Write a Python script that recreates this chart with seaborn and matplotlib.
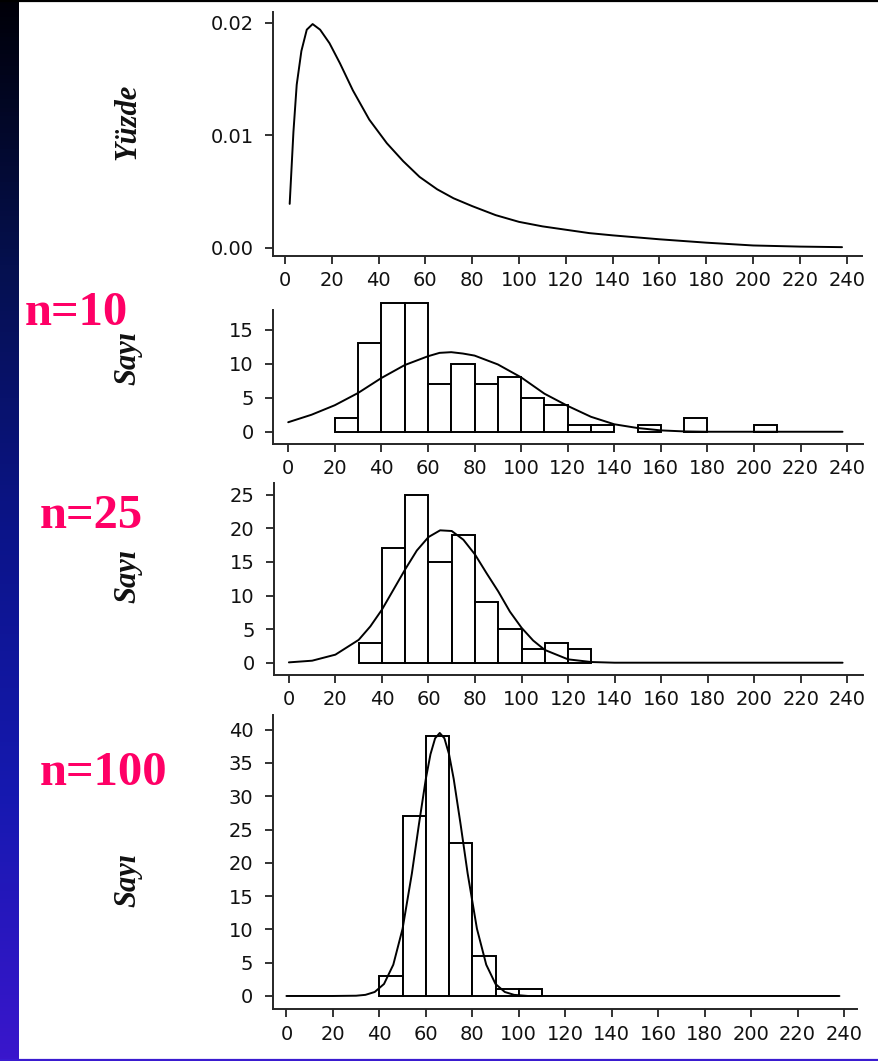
import numpy as np
import matplotlib
matplotlib.use("Agg")
import matplotlib.pyplot as plt
import seaborn as sns
from matplotlib.colors import LinearSegmentedColormap
from matplotlib.lines import Line2D
from matplotlib.ticker import FormatStrFormatter

# population distribution (top panel)
pop_x = [2, 3.6, 5, 7, 9.3, 11.8, 15, 19, 23.5, 29, 36, 43.5, 50.5, 57.5, 65, 72,
         80, 90, 100, 110, 120, 130, 140, 160, 180, 200, 220, 238]
pop_y = [0.0039, 0.0103, 0.0145, 0.0175, 0.0194, 0.0199, 0.0194, 0.0182, 0.0164,
         0.0140, 0.0114, 0.0093, 0.0077, 0.0063, 0.0052, 0.0044, 0.0037, 0.0029,
         0.0023, 0.0019, 0.0016, 0.0013, 0.0011, 0.00075, 0.00045, 0.0002, 0.0001,
         0.00005]

# sample means, n=10 (bin start, count) + fitted normal
n10_bins = [20, 30, 40, 50, 60, 70, 80, 90, 100, 110, 120, 130, 150, 170, 200]
n10_counts = [2, 13, 19, 19, 7, 10, 7, 8, 5, 4, 1, 1, 1, 2, 1]
n10_fit_x = [0, 10, 20, 30, 40, 50, 60, 65, 70, 75, 80, 90, 100, 110, 120, 130,
             140, 150, 160, 170, 180, 200, 238]
n10_fit_y = [1.4, 2.5, 3.9, 5.7, 7.9, 9.8, 11.1, 11.6, 11.7, 11.5, 11.2, 9.9, 8.0,
             5.6, 3.8, 2.2, 1.1, 0.55, 0.2, 0.05, 0, 0, 0]

# sample means, n=25
n25_bins = [30, 40, 50, 60, 70, 80, 90, 100, 110, 120]
n25_counts = [3, 17, 25, 15, 19, 9, 5, 2, 3, 2]
n25_fit_x = [0, 10, 20, 30, 35, 40, 45, 50, 55, 60, 65, 70, 75, 80, 85, 90, 95,
             100, 105, 110, 120, 130, 140, 238]
n25_fit_y = [0.05, 0.3, 1.2, 3.4, 5.4, 7.9, 10.9, 13.9, 16.7, 18.7, 19.7, 19.6,
             18.3, 16.1, 13.3, 10.6, 7.6, 5.2, 3.3, 1.9, 0.5, 0.1, 0, 0]

# sample means, n=100
n100_bins = [40, 50, 60, 70, 80, 90, 100]
n100_counts = [3, 27, 39, 23, 6, 1, 1]
n100_fit_x = [0, 20, 30, 34, 38, 42, 46, 50, 54, 57, 60, 62, 64, 66, 68, 70, 72,
              75, 78, 82, 86, 90, 94, 98, 104, 238]
n100_fit_y = [0, 0, 0.04, 0.17, 0.6, 1.8, 4.7, 10.1, 18.4, 25.7, 32.6, 36.3, 38.7,
              39.5, 38.7, 36.3, 32.6, 25.7, 18.4, 10.1, 4.7, 1.8, 0.6, 0.17, 0, 0]

x_ticks = list(range(0, 241, 20))

sns.set_theme(style="ticks")
plt.rcParams["font.family"] = ["DejaVu Sans"]
plt.rcParams["axes.linewidth"] = 1.4

W, H = 879, 1061
fig = plt.figure(figsize=(W / 100, H / 100), dpi=100)
fig.patch.set_facecolor("white")

# dark slide strip on the left
strip = fig.add_axes([0, 0, 19 / W, 1])
strip_cmap = LinearSegmentedColormap.from_list(
    "strip", ["#000008", "#05104f", "#0b1489", "#1619b0", "#3a16cc"])
strip.imshow(np.linspace(0, 1, 256)[:, None], aspect="auto", cmap=strip_cmap,
             extent=[0, 1, 0, 1])
strip.axis("off")
fig.add_artist(Line2D([0, 1], [1 - 1 / H, 1 - 1 / H], color="black", lw=1.6,
                      transform=fig.transFigure))
fig.add_artist(Line2D([0, 1], [1.5 / H, 1.5 / H], color="#3a1cd0", lw=1.6,
                      transform=fig.transFigure))


def px_axes(x0, y0, x1, y1):
    return fig.add_axes([x0 / W, 1 - y1 / H, (x1 - x0) / W, (y1 - y0) / H])


def style(ax, xlim, ylim, yticks, label, label_y):
    ax.set_xlim(xlim)
    ax.set_ylim(ylim)
    ax.set_xticks(x_ticks)
    ax.set_yticks(yticks)
    sns.despine(ax=ax)
    ax.tick_params(length=6, width=1.2, labelsize=14, colors="#111111")
    ax.tick_params(axis="y", pad=8)
    ax.tick_params(axis="x", pad=5)
    ax.set_xlabel("")
    ax.set_ylabel(label, fontsize=22, fontweight="bold", fontstyle="italic",
                  family=["Liberation Serif", "DejaVu Serif"], color="#111111")
    ax.yaxis.set_label_coords(142 / W, 1 - label_y / H, transform=fig.transFigure)


def hist(ax, bins, counts, fit_x, fit_y):
    sns.histplot(x=[b + 5 for b in bins], weights=counts, binwidth=10,
                 binrange=(bins[0], bins[-1] + 10), color="white",
                 edgecolor="black", linewidth=1.4, alpha=1, ax=ax)
    for p in list(ax.patches):
        if p.get_height() == 0:
            p.remove()
        else:
            p.set_clip_on(False)
    sns.lineplot(x=fit_x, y=fit_y, color="black", linewidth=1.4, ax=ax)


ax1 = px_axes(273.3, 11.7, 861.7, 255.7)
sns.lineplot(x=pop_x, y=pop_y, color="black", linewidth=1.4, ax=ax1)
style(ax1, (-5.0, 246.4), (-0.00071, 0.0210), [0, 0.01, 0.02], "Yüzde", 122)
ax1.yaxis.set_major_formatter(FormatStrFormatter("%.2f"))

ax2 = px_axes(273.3, 310, 863, 444)
hist(ax2, n10_bins, n10_counts, n10_fit_x, n10_fit_y)
style(ax2, (-6.4, 246.8), (-1.8, 17.9), [0, 5, 10, 15], "Sayı", 358)

ax3 = px_axes(274, 483.3, 863.3, 675)
hist(ax3, n25_bins, n25_counts, n25_fit_x, n25_fit_y)
style(ax3, (-6.4, 246.9), (-1.83, 26.7), list(range(0, 26, 5)), "Sayı", 576)

ax4 = px_axes(272.7, 715, 857.3, 1009.3)
hist(ax4, n100_bins, n100_counts, n100_fit_x, n100_fit_y)
style(ax4, (-5.9, 245.7), (-2.0, 42.2), list(range(0, 41, 5)), "Sayı", 880)

for txt, x0, base in [("n=10", 25, 325), ("n=25", 40, 528), ("n=100", 40, 785)]:
    fig.text(x0 / W, 1 - base / H, txt, color="#ff0066", fontsize=35,
             fontweight="bold", family=["Liberation Serif", "DejaVu Serif"],
             va="baseline", ha="left")

fig.savefig("out.png", dpi=100)
